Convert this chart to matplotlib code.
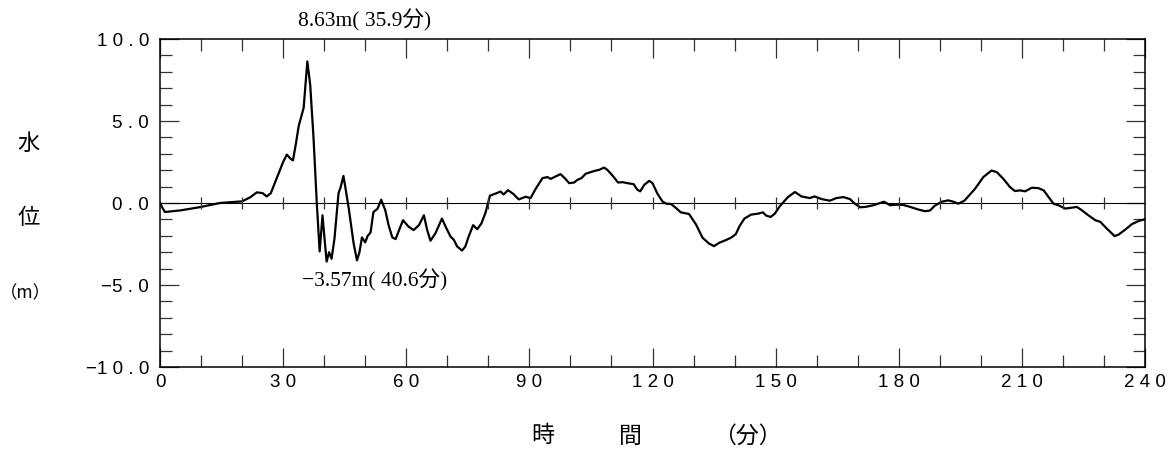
import numpy as np
import matplotlib
matplotlib.use("Agg")
import matplotlib.pyplot as plt
from matplotlib.ticker import MultipleLocator

# ---- data ----
minutes = [0, 0.6, 1.2, 5, 9.8, 14.6, 20, 22, 23.6, 25, 26, 27, 28.5, 30, 30.9, 31.8, 32.4, 33.1, 33.8, 35,
           35.9, 36.6, 37.4, 38.2, 38.9, 39.6, 40.1, 40.6, 41.2, 41.8, 42.5, 43.5, 44.0, 44.7, 45.2, 46.0,
           47.2, 48.0, 48.6, 49.2, 50.0, 50.6, 51.3, 52.0, 53.0, 53.9, 54.9, 55.7, 56.6, 57.4, 59.2, 60.6,
           61.8, 63.1, 64.3, 65.1, 65.9, 67.1, 68.7, 69.6, 70.8, 71.6, 72.4, 73.6, 74.4, 75.2, 76.3, 77.3,
           78.3, 79.3, 80.4, 81.8, 83.0, 83.7, 84.8, 86.1, 87.4, 89.1, 90.3, 91.5, 93.2, 94.4, 95.2, 96.4,
           97.6, 98.6, 99.7, 100.9, 101.7, 102.7, 103.7, 104.9, 106.2, 107.0, 108.2, 109.0, 110.3, 111.6,
           112.7, 113.9, 115.4, 116.3, 117.0, 118.0, 119.2, 120.0, 121.2, 122.4, 123.3, 124.5, 125.7,
           126.9, 128.9, 130.6, 132.2, 133.8, 135.0, 136.3, 137.9, 139.1, 140.3, 141.2, 142.4, 144.0,
           145.7, 146.9, 147.7, 148.8, 149.8, 151.0, 153.0, 154.7, 156.3, 158.3, 159.5, 161.2, 163.2,
           164.8, 166.5, 168.1, 169.3, 170.6, 171.8, 173.8, 175.0, 176.4, 177.9, 179.5, 181.1, 182.8,
           184.8, 186.4, 187.6, 188.8, 190.5, 192.1, 193.3, 194.5, 196.0, 198.6, 200.6, 202.6, 203.9,
           205.5, 207.1, 208.3, 209.6, 210.8, 212.4, 214.0, 215.3, 216.5, 217.7, 218.9, 220.6, 221.8,
           223.4, 224.6, 226.2, 227.9, 229.1, 230.7, 232.6, 233.6, 235.2, 236.8, 238.5, 240.0]
level = [0.0, -0.3, -0.55, -0.45, -0.25, 0.0, 0.1, 0.35, 0.65, 0.6, 0.4, 0.6, 1.55, 2.5, 2.95, 2.7, 2.6, 3.6, 4.7, 5.8,
         8.63, 7.2, 4.0, 0.0, -2.95, -0.75, -2.2, -3.57, -3.0, -3.4, -2.2, 0.6, 0.95, 1.65, 0.9, -0.35,
         -2.5, -3.5, -3.0, -2.1, -2.4, -2.0, -1.8, -0.55, -0.35, 0.2, -0.45, -1.35, -2.1, -2.2, -1.05, -1.45,
         -1.65, -1.35, -0.75, -1.65, -2.3, -1.85, -0.95, -1.45, -2.05, -2.25, -2.65, -2.9, -2.65, -2.05, -1.35, -1.6,
         -1.25, -0.6, 0.45, 0.58, 0.7, 0.52, 0.78, 0.55, 0.22, 0.38, 0.3, 0.85, 1.52, 1.58, 1.47, 1.62,
         1.76, 1.52, 1.21, 1.25, 1.41, 1.52, 1.78, 1.88, 1.98, 2.02, 2.16, 2.02, 1.66, 1.25,
         1.27, 1.21, 1.15, 0.81, 0.71, 1.11, 1.35, 1.21, 0.57, 0.1, -0.04, -0.06, -0.3,
         -0.57, -0.67, -1.31, -2.12, -2.48, -2.63, -2.42, -2.26, -2.12, -1.9, -1.41, -0.95, -0.71,
         -0.65, -0.57, -0.77, -0.85, -0.65, -0.2, 0.36, 0.67, 0.4, 0.3, 0.4, 0.24, 0.14,
         0.3, 0.36, 0.24, -0.04, -0.26, -0.24, -0.14, -0.04, 0.08, -0.14, -0.1, -0.12, -0.24,
         -0.4, -0.5, -0.46, -0.16, 0.08, 0.16, 0.08, -0.04, 0.14, 0.87, 1.58, 1.98, 1.88,
         1.47, 0.97, 0.73, 0.77, 0.71, 0.93, 0.91, 0.77, 0.36, -0.04, -0.14, -0.34, -0.3,
         -0.24, -0.44, -0.75, -1.05, -1.15, -1.56, -2.02, -1.92, -1.62, -1.29, -1.09, -0.99]

x_ticks = [0, 30, 60, 90, 120, 150, 180, 210, 240]
x_tick_labels = ["0", "3 0", "6 0", "9 0", "1 2 0", "1 5 0", "1 8 0", "2 1 0", "2 4 0"]
y_ticks = [-10, -5, 0, 5, 10]
y_tick_labels = ["\u22121 0 . 0", "\u22125 . 0", "0 . 0", "5 . 0", "1 0 . 0"]

max_time, max_level = 35.9, 8.63
min_time, min_level = 40.6, -3.57
max_label = "8.63m( 35.9分)"
min_label = "\u22123.57m( 40.6分)"

# ---- figure ----
W, H = 1169, 450
fig = plt.figure(figsize=(W / 100, H / 100), dpi=100)
ax = fig.add_axes([160 / W, 1 - 367 / H, (1145 - 160) / W, (367 - 39) / H])

ax.plot(minutes, level, color="black", lw=1.6, solid_joinstyle="round")
ax.axhline(0, color="black", lw=0.8)
zero_ticks = np.arange(10, 240, 10)
ax.plot(zero_ticks, np.zeros_like(zero_ticks), ls="none", marker="|",
        ms=9, mew=0.9, color="#333333")

ax.set_xlim(0, 240)
ax.set_ylim(-10, 10)

tick_font = dict(fontfamily="Liberation Sans", fontsize=13.5)
ax.set_xticks(x_ticks)
ax.set_xticklabels(x_tick_labels, **tick_font)
ax.set_yticks(y_ticks)
ax.set_yticklabels(y_tick_labels, **tick_font)
ax.xaxis.set_minor_locator(MultipleLocator(10))
ax.yaxis.set_minor_locator(MultipleLocator(1))
ax.tick_params(which="both", direction="in", top=True, right=True, color="#333333", width=0.9)
ax.tick_params(which="major", length=14)
ax.tick_params(which="minor", length=8.6)
ax.tick_params(axis="x", which="major", pad=5)
ax.tick_params(axis="y", which="major", pad=8)
for s in ax.spines.values():
    s.set_linewidth(1.1)

# annotations
ann_font = ["Liberation Serif", "Noto Sans CJK JP"]
ax.annotate(max_label, xy=(max_time, max_level), xycoords="data",
            xytext=(365 / W, 1 - 20 / H), textcoords="figure fraction",
            ha="center", va="center", fontsize=15.5, family=ann_font)
ax.annotate(min_label, xy=(min_time, min_level), xycoords="data",
            xytext=(302 / W, 1 - 280 / H), textcoords="figure fraction",
            ha="left", va="center", fontsize=15.5, family=ann_font)

# axis labels
cjk = ["Noto Sans CJK JP", "DejaVu Sans"]
fig.text(29 / W, 1 - 143 / H, "水", ha="center", va="center", fontsize=16, family=cjk)
fig.text(29 / W, 1 - 218 / H, "位", ha="center", va="center", fontsize=16, family=cjk)
fig.text(25 / W, 1 - 293 / H, "（m）", ha="center", va="center", fontsize=12.5, family=cjk)
fig.text(543 / W, 1 - 436 / H, "時", ha="center", va="center", fontsize=16.5, family=cjk)
fig.text(630 / W, 1 - 436 / H, "間", ha="center", va="center", fontsize=16.5, family=cjk)
fig.text(747 / W, 1 - 436 / H, "（分）", ha="center", va="center", fontsize=16.5, family=cjk)

fig.savefig("out.png", dpi=100)
